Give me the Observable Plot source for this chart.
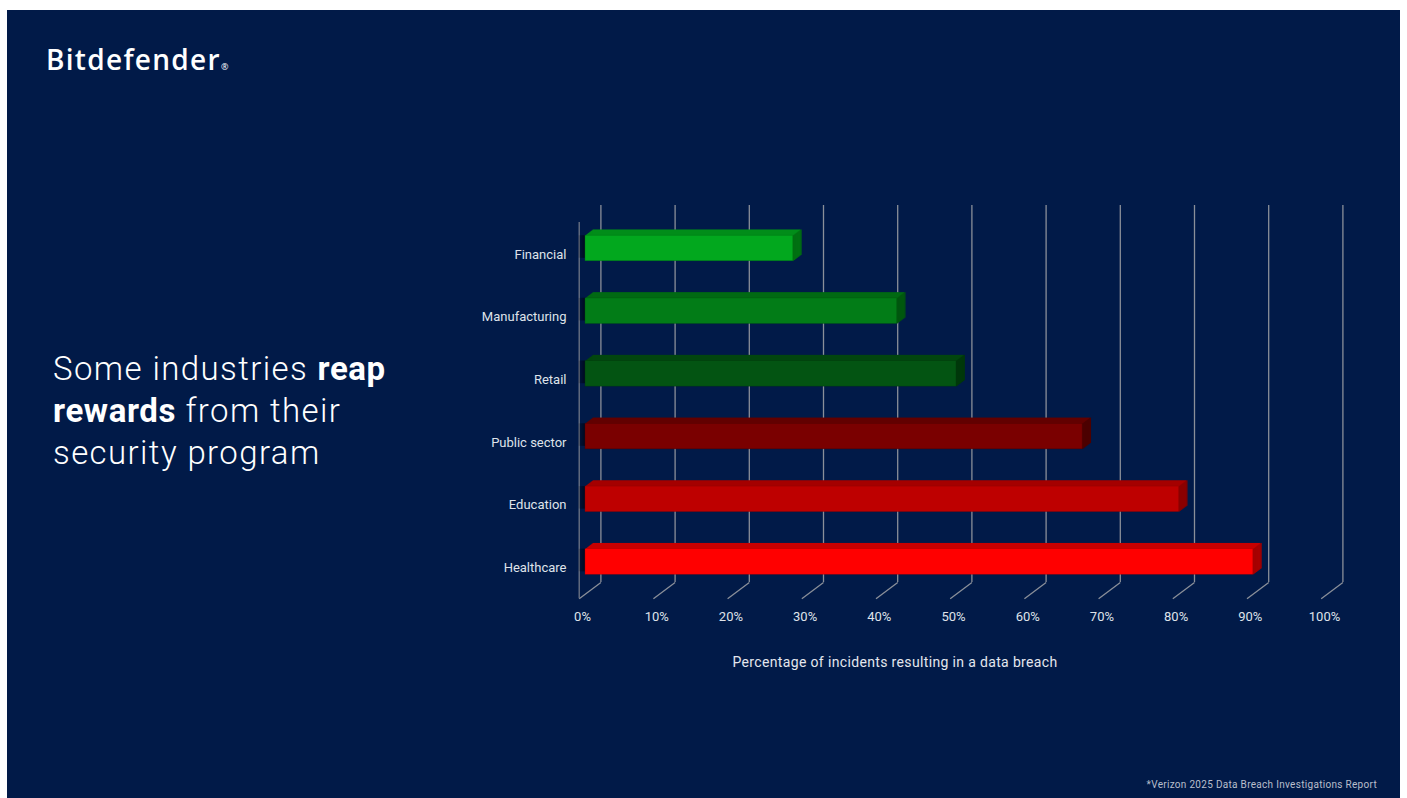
<!DOCTYPE html>
<html>
<head>
<meta charset="utf-8">
<script src="https://cdn.jsdelivr.net/npm/d3@7"></script>
<script src="https://cdn.jsdelivr.net/npm/@observablehq/plot@0.6"></script>
<style>
  html, body { margin: 0; padding: 0; background: #ffffff; }
  body { width: 1407px; height: 798px; position: relative; overflow: hidden; font-family: "Roboto", "Open Sans", sans-serif; }
  #slide { position: absolute; left: 7px; top: 10px; width: 1393px; height: 788px; background: #011a48; }
  #logo { position: absolute; left: 46px; top: 40px; color: #fff; font-family: "Open Sans", sans-serif; font-weight: 600; font-size: 28px; letter-spacing: 1.3px; }
  #logo sup { font-size: 9px; font-weight: 400; vertical-align: baseline; position: relative; top: 0px; margin-left: 0px; }
  #title { position: absolute; left: 53px; top: 348px; color: #fff; font-family: "Roboto", sans-serif; font-weight: 300; font-size: 33px; line-height: 42px; letter-spacing: 1.4px; }
  #title b { font-weight: 700; letter-spacing: 0.6px; }
  #xtitle { position: absolute; left: 0; width: 1790px; top: 654px; text-align: center; color: #e4e7ee; font-family: "Roboto", sans-serif; font-size: 14px; letter-spacing: 0.35px; }
  #note { position: absolute; right: 30px; top: 779px; color: #b9bfcc; font-family: "Roboto", sans-serif; font-size: 10px; letter-spacing: 0.3px; }
  #chart { position: absolute; left: 0; top: 0; }
</style>
</head>
<body>
<div id="slide"></div>
<div id="logo">Bitdefender<sup>®</sup></div>
<div id="title">Some industries <b>reap</b><br><b>rewards</b> from their<br>security program</div>
<div id="xtitle">Percentage of incidents resulting in a data breach</div>
<div id="note">*Verizon 2025 Data Breach Investigations Report</div>
<div id="chart"></div>
<script>
// ---- data ----
const industries = ["Financial", "Manufacturing", "Retail", "Public sector", "Education", "Healthcare"];
const breachPct = [28, 42, 50, 67, 80, 90];
const xTicks = [0, 10, 20, 30, 40, 50, 60, 70, 80, 90, 100];

// ---- palette (front / top / side faces) ----
const frontColors = ["#02a81e", "#027c17", "#035412", "#7a0000", "#be0000", "#ff0000"];
const topColors   = ["#018d19", "#016913", "#02460e", "#620000", "#a40000", "#c80000"];
const sideColors  = ["#006f12", "#00560f", "#01380b", "#4c0000", "#880000", "#a50000"];

const rows = industries.map((name, i) => ({name, i, value: breachPct[i], front: frontColors[i], top: topColors[i], side: sideColors[i]}));

// ---- layout (pixels) ----
const W = 1407, H = 798;
const mL = 585, mR = 80, mT = 205, mB = 200;
const yRange = [248, 561.5];
const pxX = 100 / (W - mL - mR);                       // % per px
const pxY = (industries.length - 1) / (yRange[1] - yRange[0]); // row units per px
const yAt = (py) => (py - yRange[0]) * pxY;
const half = 12.75 * pxY;        // half bar thickness
const depthX = 7.6, depthY = -5.8; // bar depth offset
const steps = 8;

const marks = [];
// back wall gridlines
marks.push(Plot.ruleX(xTicks, {x: d => d, y1: yAt(205), y2: yAt(582), dx: 15.4, stroke: "#8a8f99", strokeWidth: 1.3}));
// floor diagonals
marks.push(Plot.link(xTicks, {x1: d => d + 15.4 * pxX, y1: yAt(582), x2: d => d - 6.3 * pxX, y2: yAt(598.3), stroke: "#8a8f99", strokeWidth: 1.3}));
// left wall edge
marks.push(Plot.ruleX([0], {dx: -6.3, y1: yAt(222), y2: yAt(598.3), stroke: "#6f7686", strokeWidth: 1.3}));
// shadows near left wall
for (let k = 1; k <= 7; k++) {
  marks.push(Plot.rect(rows, {x1: 0, x2: 0, insetLeft: -k, y1: d => d.i - half + 3 * pxY, y2: d => d.i + half, dy: -3, fill: "#000000", fillOpacity: 0.09}));
}
// extrusion (top faces)
for (let k = 1; k <= steps; k++) {
  marks.push(Plot.rect(rows, {x1: 0, x2: "value", y1: d => d.i - half, y2: d => d.i + half, dx: depthX * k / steps, dy: depthY * k / steps, fill: "top"}));
}
// right side faces
for (let k = 0; k <= steps; k++) {
  marks.push(Plot.rect(rows, {x1: "value", x2: "value", insetRight: -1.3, y1: d => d.i - half, y2: d => d.i + half, dx: depthX * k / steps, dy: depthY * k / steps, fill: "side"}));
}
// front faces
marks.push(Plot.rect(rows, {x1: 0, x2: "value", y1: d => d.i - half, y2: d => d.i + half, fill: "front", stroke: "side", strokeWidth: 0.6, strokeOpacity: 0.6}));
// category labels
marks.push(Plot.text(rows, {x: 0, y: "i", text: "name", dx: -19, dy: 6, textAnchor: "end", fill: "#dfe3ea", fontSize: 13, letterSpacing: 0.2}));
// x tick labels
marks.push(Plot.text(xTicks, {x: d => d, frameAnchor: "bottom", dy: 22, dx: -3, text: d => d + "%", fill: "#dfe3ea", fontSize: 13, letterSpacing: 0.3}));

const chart = Plot.plot({
  width: W, height: H,
  marginLeft: mL, marginRight: mR, marginTop: mT, marginBottom: mB,
  x: {domain: [0, 100], axis: null},
  y: {domain: [0, industries.length - 1], range: yRange, axis: null},
  fill: {type: "identity"},
  stroke: {type: "identity"},
  style: {background: "transparent", fontFamily: "Roboto, 'Open Sans', sans-serif", overflow: "visible"},
  marks
});
document.getElementById("chart").appendChild(chart);
</script>
</body>
</html>
